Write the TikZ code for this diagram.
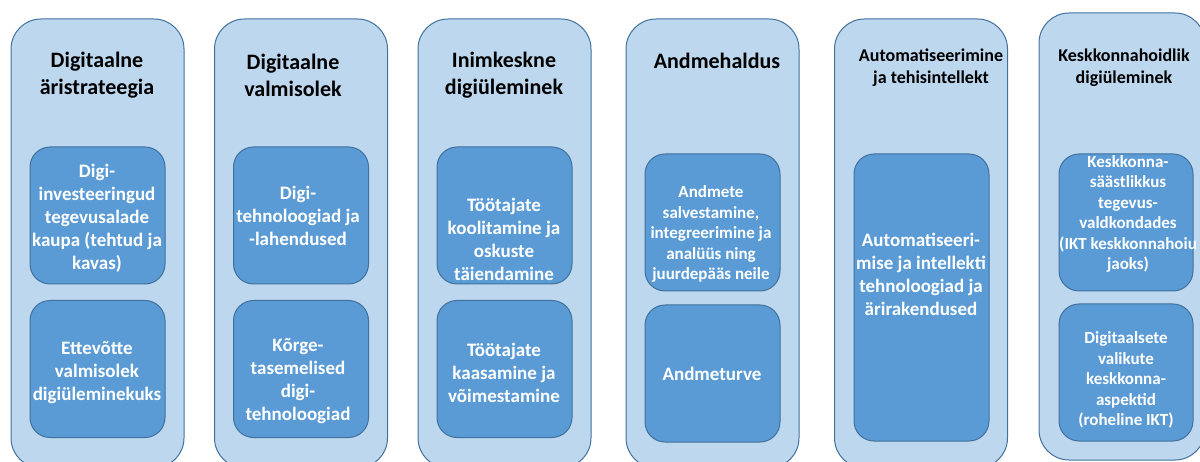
\documentclass[tikz,border=0pt]{standalone}
\usepackage{fontspec}
\setmainfont{Carlito}
\definecolor{paleblue}{HTML}{BDD7EE}
\definecolor{midblue}{HTML}{5B9BD5}
\definecolor{edgeblue}{HTML}{41719C}
\begin{document}
\begin{tikzpicture}[x=1pt,y=-1pt,
    column/.style={draw=edgeblue,fill=paleblue,line width=1pt,rounded corners=30pt,minimum width=173pt,minimum height=449pt},
    topic/.style={draw=edgeblue,fill=midblue,line width=1pt,rounded corners=20pt,minimum width=135pt,minimum height=137pt},
    head/.style={align=center,font=\fontsize{22}{27}\selectfont\bfseries},
    smallhead/.style={align=center,font=\fontsize{18}{22}\selectfont\bfseries},
    txt/.style={align=center,text=white,font=\fontsize{19}{23}\selectfont\bfseries},
    smalltxt/.style={align=center,text=white,font=\fontsize{17}{20.5}\selectfont\bfseries}]
        \useasboundingbox (0,0) rectangle (1200,462);
        % columns
        \node[column] (strat) at (97.5,243.5) {};
        \node[column] (valm) at (301,243.5) {};
        \node[column] (inim) at (504.5,243.5) {};
        \node[column] (andm) at (712.5,243.5) {};
        \node[column] (auto) at (921,243.5) {};
        \node[column,minimum width=166pt,minimum height=447pt] (kesk) at (1122,236.5) {};
        % headings
        \node[head] (stratH) at (97,75) {Digitaalne\\äristrateegia};
        \node[head] (valmH) at (293,75) {Digitaalne\\valmisolek};
        \node[head] (inimH) at (504,75) {Inimkeskne\\digiüleminek};
        \node[head] (andmH) at (717,61) {Andmehaldus};
        \node[smallhead] (autoH) at (931,68) {Automatiseerimine\\ja tehisintellekt};
        \node[smallhead] (keskH) at (1124,68) {Keskkonnahoidlik\\digiüleminek};
        % inner boxes
        \node[topic] (strat1) at (97.5,215.5) {};
        \node[topic] (strat2) at (97.5,369) {};
        \node[topic] (valm1) at (301,215.5) {};
        \node[topic] (valm2) at (301,369) {};
        \node[topic] (inim1) at (504.5,215.5) {};
        \node[topic] (inim2) at (504.5,369) {};
        \node[topic] (andm1) at (712.5,222.5) {};
        \node[topic] (andm2) at (712.5,373.5) {};
        \node[topic,minimum height=287pt] (auto1) at (921.5,297.5) {};
        \node[topic,minimum width=134pt] (kesk1) at (1126,222.5) {};
        \node[topic,minimum width=134pt] (kesk2) at (1126,372.5) {};
        % texts
        \node[txt] (strat1T) at (97,218) {Digi-\\investeeringud\\tegevusalade\\kaupa (tehtud ja\\kavas)};
        \node[txt] (strat2T) at (97,373) {Ettevõtte\\valmisolek\\digiüleminekuks};
        \node[txt] (valm1T) at (298,216) {Digi-\\tehnoloogiad ja\\-lahendused};
        \node[txt] (valm2T) at (298,381) {Kõrge-\\tasemelised\\digi-\\tehnoloogiad};
        \node[txt] (inim1T) at (504,239) {Töötajate\\koolitamine ja\\oskuste\\täiendamine};
        \node[txt] (inim2T) at (504,373) {Töötajate\\kaasamine ja\\võimestamine};
        \node[smalltxt] (andm1T) at (711,234) {Andmete\\salvestamine,\\integreerimine ja\\analüüs ning\\juurdepääs neile};
        \node[txt] (andm2T) at (712,374) {Andmeturve};
        \node[txt] (auto1T) at (921,274) {Automatiseeri-\\mise ja intellekti\\tehnoloogiad ja\\ärirakendused};
        \node[smalltxt] (kesk1T) at (1128,214) {Keskkonna-\\säästlikkus\\tegevus-\\valdkondades\\(IKT keskkonnahoiu\\jaoks)};
        \node[smalltxt] (kesk2T) at (1126,380) {Digitaalsete\\valikute\\keskkonna-\\aspektid\\(roheline IKT)};
    \end{tikzpicture}
\end{document}
